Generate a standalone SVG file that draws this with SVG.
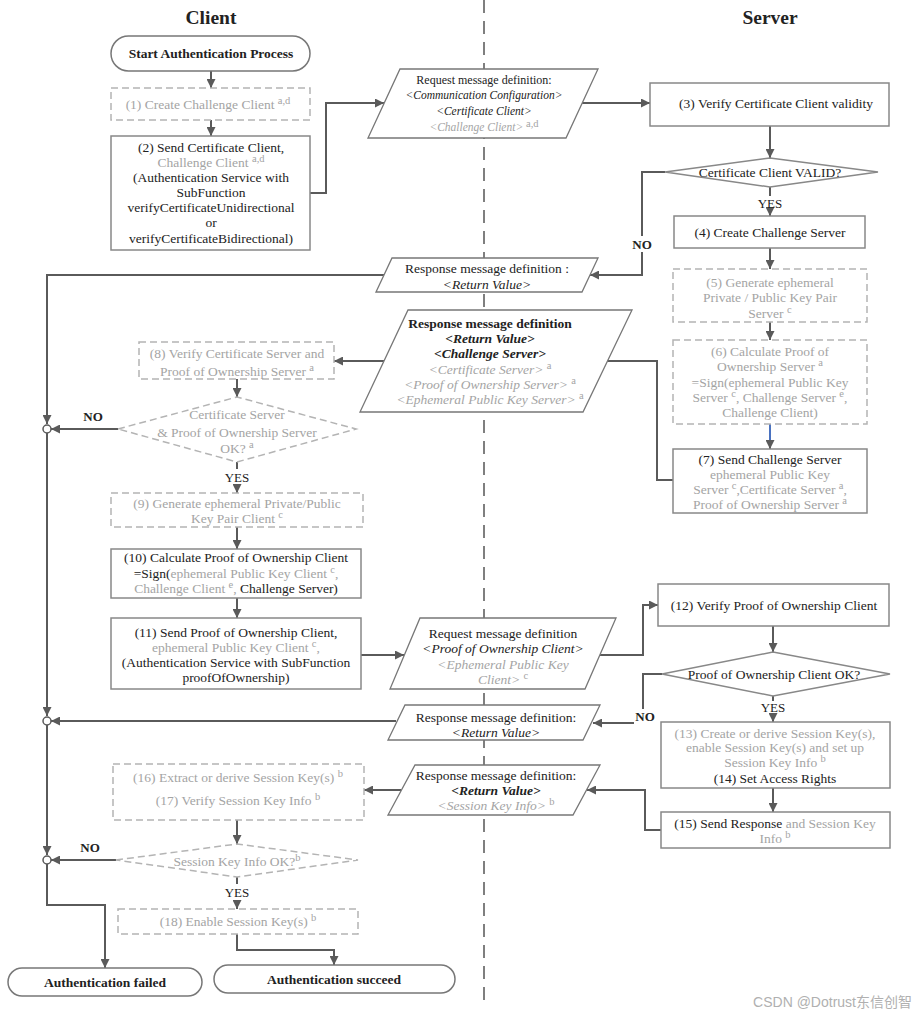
<svg xmlns="http://www.w3.org/2000/svg" width="922" height="1017" viewBox="0 0 922 1017">
<style>
.box{fill:#fff;stroke:#888;stroke-width:1.5}
.dbox{fill:#fff;stroke:#b4b4b4;stroke-width:1.5;stroke-dasharray:7 4}
.term{fill:#fff;stroke:#777;stroke-width:1.5}
.par{fill:#fff;stroke:#777;stroke-width:1.3}
.conn{fill:none;stroke:#5a5a5a;stroke-width:2}
.t{font-family:"Liberation Serif",serif;font-size:13.5px;fill:#222;text-anchor:middle}
.s{font-size:12px}
.xs{font-size:11.5px}
.g{fill:#a4a4a4}
.i{font-style:italic}
.b{font-weight:bold}
.sup{font-size:10.5px}
.title{font-family:"Liberation Serif",serif;font-size:19.5px;font-weight:bold;fill:#222;text-anchor:middle}
.lbl{font-family:"Liberation Serif",serif;font-size:13px;fill:#222;text-anchor:middle}
</style>
<defs>
<marker id="ah" viewBox="0 0 10 10" refX="10" refY="5" markerWidth="10" markerHeight="9" markerUnits="userSpaceOnUse" orient="auto"><path d="M0,0 L10,5 L0,10 z" fill="#5a5a5a"/></marker>
</defs>
<rect width="922" height="1017" fill="#fff"/>
<line x1="484" y1="0" x2="484" y2="1000" stroke="#555" stroke-width="1.5" stroke-dasharray="13 8"/>
<text class="title" x="211" y="24">Client</text>
<text class="title" x="770" y="24">Server</text>

<g id="connectors">
<path class="conn" d="M211,71 V88" marker-end="url(#ah)"/>
<path class="conn" d="M211,120 V136" marker-end="url(#ah)"/>
<path class="conn" d="M310,193 H326 V103 H384" marker-end="url(#ah)"/>
<path class="conn" d="M582,103 H650" marker-end="url(#ah)"/>
<path class="conn" d="M770,126 V158" marker-end="url(#ah)"/>
<path class="conn" d="M770,187 V196"/>
<path class="conn" d="M770,208 V216" marker-end="url(#ah)"/>
<path class="conn" d="M665,172 H642 V236"/>
<path class="conn" d="M642,252 V275 H590" marker-end="url(#ah)"/>
<path class="conn" d="M384,275 H47 V424" marker-end="url(#ah)"/>
<path class="conn" d="M770,248 V269" marker-end="url(#ah)"/>
<path class="conn" d="M770,322 V340" marker-end="url(#ah)"/>
<path d="M770,424 V440" fill="none" stroke="#4a72c0" stroke-width="2"/>
<path class="conn" d="M770,440 V449" marker-end="url(#ah)"/>
<path class="conn" d="M673,480 H657 V361 H584" marker-end="url(#ah)"/>
<path class="conn" d="M384,361 H334" marker-end="url(#ah)"/>
<path class="conn" d="M237,379 V397" marker-end="url(#ah)"/>
<path class="conn" d="M118,429 H51" marker-end="url(#ah)"/>
<path class="conn" d="M237,462 V469"/>
<path class="conn" d="M237,485 V493" marker-end="url(#ah)"/>
<path class="conn" d="M237,527 V549" marker-end="url(#ah)"/>
<path class="conn" d="M237,598 V618" marker-end="url(#ah)"/>
<path class="conn" d="M361,655 H404" marker-end="url(#ah)"/>
<path class="conn" d="M600,655 H643 V605 H658" marker-end="url(#ah)"/>
<path class="conn" d="M773,626 V652" marker-end="url(#ah)"/>
<path class="conn" d="M773,696 V701"/>
<path class="conn" d="M773,715 V722" marker-end="url(#ah)"/>
<path class="conn" d="M662,674 H643 V709"/>
<path class="conn" d="M634,723 H593" marker-end="url(#ah)"/>
<path class="conn" d="M396,721 H51" marker-end="url(#ah)"/>
<path class="conn" d="M773,788 V812" marker-end="url(#ah)"/>
<path class="conn" d="M661,830 H645 V790 H587" marker-end="url(#ah)"/>
<path class="conn" d="M401,790 H364" marker-end="url(#ah)"/>
<path class="conn" d="M237,820 V844" marker-end="url(#ah)"/>
<path class="conn" d="M116,860 H51" marker-end="url(#ah)"/>
<path class="conn" d="M237,877 V884"/>
<path class="conn" d="M237,900 V909" marker-end="url(#ah)"/>
<path class="conn" d="M237,934 V950 H334 V965" marker-end="url(#ah)"/>
<path class="conn" d="M47,433 V716" marker-end="url(#ah)"/>
<path class="conn" d="M47,725 V855" marker-end="url(#ah)"/>
<path class="conn" d="M47,864 V905 H105 V968" marker-end="url(#ah)"/>
<circle cx="47" cy="429" r="4" fill="#fff" stroke="#5a5a5a" stroke-width="1.5"/>
<circle cx="47" cy="721" r="4" fill="#fff" stroke="#5a5a5a" stroke-width="1.5"/>
<circle cx="47" cy="860" r="4" fill="#fff" stroke="#5a5a5a" stroke-width="1.5"/>
<text class="lbl b" x="642" y="249">NO</text>
<text class="lbl" x="770" y="208">YES</text>
<text class="lbl b" x="93" y="421">NO</text>
<text class="lbl" x="237" y="482">YES</text>
<text class="lbl" x="773" y="712">YES</text>
<text class="lbl b" x="645" y="721">NO</text>
<text class="lbl b" x="90" y="852">NO</text>
<text class="lbl" x="237" y="897">YES</text>
</g>

<g id="start">
<rect class="term" x="111" y="36" width="199" height="35" rx="17.5"/>
<text class="t b" x="211" y="58">Start Authentication Process</text>
</g>
<g id="step1">
<rect class="dbox" x="111" y="88" width="199" height="32"/>
<text class="t g" x="208" y="108.5">(1) Create Challenge Client <tspan class="sup" dy="-5">a,d</tspan></text>
</g>
<g id="step2">
<rect class="box" x="111" y="136" width="199" height="114"/>
<text class="t" x="211" y="151.5">(2) Send Certificate Client,</text>
<text class="t g" x="211" y="166.5">Challenge Client <tspan class="sup" dy="-5">a,d</tspan></text>
<text class="t" x="211" y="181.5">(Authentication Service with</text>
<text class="t" x="211" y="196.5">SubFunction</text>
<text class="t" x="211" y="211.5">verifyCertificateUnidirectional</text>
<text class="t" x="211" y="227">or</text>
<text class="t" x="211" y="242.5">verifyCertificateBidirectional)</text>
</g>
<g id="req1">
<polygon class="par" points="400,69 598,69 566,138 368,138"/>
<text class="t s" x="484" y="84">Request message definition:</text>
<text class="t xs i" x="484" y="99">&lt;Communication Configuration&gt;</text>
<text class="t xs i" x="484" y="115">&lt;Certificate Client&gt;</text>
<text class="t xs i g" x="484" y="131">&lt;Challenge Client&gt; <tspan class="sup" dy="-4" font-style="normal">a,d</tspan></text>
</g>
<g id="step3">
<rect class="box" x="650" y="83" width="239" height="43"/>
<text class="t" x="776" y="108">(3) Verify Certificate Client validity</text>
</g>
<g id="dec1">
<polygon class="box" points="665,172 770,158 878,172 770,187"/>
<text class="t" x="770" y="176.5">Certificate Client VALID?</text>
</g>
<g id="resp1">
<polygon class="par" points="392,258 598,258 582,292 376,292"/>
<text class="t" x="487" y="272.5">Response message definition :</text>
<text class="t i" x="487" y="288.5">&lt;Return Value&gt;</text>
</g>
<g id="step4">
<rect class="box" x="674" y="216" width="191" height="32"/>
<text class="t" x="770" y="236.5">(4) Create Challenge Server</text>
</g>
<g id="step5">
<rect class="dbox" x="673" y="269" width="194" height="53"/>
<text class="t g" x="770" y="286.5">(5) Generate ephemeral</text>
<text class="t g" x="770" y="301.5">Private / Public Key Pair</text>
<text class="t g" x="770" y="317.5">Server <tspan class="sup" dy="-5">c</tspan></text>
</g>
<g id="step6">
<rect class="dbox" x="673" y="340" width="194" height="84"/>
<text class="t g" x="770" y="355.5">(6) Calculate Proof of</text>
<text class="t g" x="770" y="370.5">Ownership Server <tspan class="sup" dy="-5">a</tspan></text>
<text class="t g" x="770" y="386.5">=Sign(ephemeral Public Key</text>
<text class="t g" x="770" y="401.5">Server <tspan class="sup" dy="-5">c</tspan><tspan dy="5">, Challenge Server </tspan><tspan class="sup" dy="-5">e</tspan><tspan dy="5">,</tspan></text>
<text class="t g" x="770" y="416.5">Challenge Client)</text>
</g>
<g id="step7">
<rect class="box" x="673" y="449" width="194" height="64"/>
<text class="t" x="770" y="463.5">(7) Send Challenge Server</text>
<text class="t g" x="770" y="478.5">ephemeral Public Key</text>
<text class="t g" x="770" y="493.5">Server <tspan class="sup" dy="-5">c</tspan><tspan dy="5">,Certificate Server </tspan><tspan class="sup" dy="-5">a</tspan><tspan dy="5">,</tspan></text>
<text class="t g" x="770" y="508.5">Proof of Ownership Server <tspan class="sup" dy="-5">a</tspan></text>
</g>
<g id="resp2">
<polygon class="par" points="408,310 632,310 583,412 360,412"/>
<text class="t b" x="490" y="327.5">Response message definition</text>
<text class="t b i" x="490" y="342.5">&lt;Return Value&gt;</text>
<text class="t b i" x="490" y="357.5">&lt;Challenge Server&gt;</text>
<text class="t i g" x="490" y="373.5">&lt;Certificate Server&gt; <tspan class="sup" dy="-5" font-style="normal">a</tspan></text>
<text class="t i g" x="490" y="388.5">&lt;Proof of Ownership Server&gt; <tspan class="sup" dy="-5" font-style="normal">a</tspan></text>
<text class="t i g" x="490" y="403.5">&lt;Ephemeral Public Key Server&gt; <tspan class="sup" dy="-5" font-style="normal">a</tspan></text>
</g>
<g id="step8">
<rect class="dbox" x="139" y="342" width="195" height="37"/>
<text class="t g" x="237" y="357.5">(8) Verify Certificate Server and</text>
<text class="t g" x="237" y="375.5">Proof of Ownership Server <tspan class="sup" dy="-5">a</tspan></text>
</g>
<g id="dec2">
<polygon class="dbox" points="118,429 237,397 356,429 237,462"/>
<text class="t g" x="237" y="418.5">Certificate Server</text>
<text class="t g" x="237" y="436.5">&amp; Proof of Ownership Server</text>
<text class="t g" x="237" y="452.5">OK? <tspan class="sup" dy="-5">a</tspan></text>
</g>
<g id="step9">
<rect class="dbox" x="111" y="493" width="252" height="34"/>
<text class="t g" x="237" y="507.5">(9) Generate ephemeral Private/Public</text>
<text class="t g" x="237" y="522.5">Key Pair Client <tspan class="sup" dy="-5">c</tspan></text>
</g>
<g id="step10">
<rect class="box" x="111" y="549" width="250" height="49"/>
<text class="t" x="236" y="561.5">(10) Calculate Proof of Ownership Client</text>
<text class="t" x="236" y="577.5">=Sign(<tspan class="g">ephemeral Public Key Client </tspan><tspan class="g sup" dy="-5">c</tspan><tspan class="g" dy="5">,</tspan></text>
<text class="t" x="236" y="593"><tspan class="g">Challenge Client </tspan><tspan class="g sup" dy="-5">e</tspan><tspan class="g" dy="5">,</tspan> Challenge Server)</text>
</g>
<g id="step11">
<rect class="box" x="111" y="618" width="250" height="71"/>
<text class="t" x="236" y="637">(11) Send Proof of Ownership Client,</text>
<text class="t g" x="236" y="652">ephemeral Public Key Client <tspan class="sup" dy="-5">c</tspan><tspan dy="5">,</tspan></text>
<text class="t" x="236" y="667">(Authentication Service with SubFunction</text>
<text class="t" x="236" y="682">proofOfOwnership)</text>
</g>
<g id="req2">
<polygon class="par" points="420,618 616,618 585,689 390,689"/>
<text class="t" x="503" y="637.5">Request message definition</text>
<text class="t i" x="503" y="652.5">&lt;Proof of Ownership Client&gt;</text>
<text class="t i g" x="503" y="668.5">&lt;Ephemeral Public Key</text>
<text class="t i g" x="503" y="683.5">Client&gt; <tspan class="sup" dy="-5" font-style="normal">c</tspan></text>
</g>
<g id="step12">
<rect class="box" x="658" y="584" width="231" height="42"/>
<text class="t" x="774" y="609.5">(12) Verify Proof of Ownership Client</text>
</g>
<g id="dec3">
<polygon class="box" points="662,674 773,652 890,674 773,696"/>
<text class="t" x="774" y="678.5">Proof of Ownership Client OK?</text>
</g>
<g id="resp3">
<polygon class="par" points="405,705 600,705 583,740 388,740"/>
<text class="t" x="496" y="721.5">Response message definition:</text>
<text class="t i" x="496" y="736.5">&lt;Return Value&gt;</text>
</g>
<g id="step13">
<rect class="box" x="661" y="722" width="229" height="66"/>
<text class="t g" x="775" y="737.5">(13) Create or derive Session Key(s),</text>
<text class="t g" x="775" y="751.5">enable Session Key(s) and set up</text>
<text class="t g" x="775" y="766.5">Session Key Info <tspan class="sup" dy="-5">b</tspan></text>
<text class="t" x="775" y="782.5">(14) Set Access Rights</text>
</g>
<g id="step15">
<rect class="box" x="661" y="812" width="229" height="36"/>
<text class="t" x="775" y="827.5">(15) Send Response<tspan class="g"> and Session Key</tspan></text>
<text class="t g" x="775" y="842.5">Info <tspan class="sup" dy="-5">b</tspan></text>
</g>
<g id="resp4">
<polygon class="par" points="415,765 600,765 573,815 388,815"/>
<text class="t" x="496" y="779.5">Response message definition:</text>
<text class="t b i" x="496" y="794.5">&lt;Return Value&gt;</text>
<text class="t i g" x="496" y="809.5">&lt;Session Key Info&gt; <tspan class="sup" dy="-5" font-style="normal">b</tspan></text>
</g>
<g id="step16">
<rect class="dbox" x="113" y="764" width="251" height="56"/>
<text class="t g" x="238" y="781.5">(16) Extract or derive Session Key(s) <tspan class="sup" dy="-5">b</tspan></text>
<text class="t g" x="238" y="804.5">(17) Verify Session Key Info <tspan class="sup" dy="-5">b</tspan></text>
</g>
<g id="dec4">
<polygon class="dbox" points="116,860 237,844 358,860 237,877"/>
<text class="t g" x="237" y="866">Session Key Info OK?<tspan class="sup" dy="-5">b</tspan></text>
</g>
<g id="step18">
<rect class="dbox" x="118" y="909" width="240" height="25"/>
<text class="t g" x="238" y="926">(18) Enable Session Key(s) <tspan class="sup" dy="-5">b</tspan></text>
</g>
<g id="failed">
<rect class="term" x="8" y="968" width="194" height="28" rx="14"/>
<text class="t b" x="105" y="986.5">Authentication failed</text>
</g>
<g id="succeed">
<rect class="term" x="214" y="965" width="241" height="28" rx="14"/>
<text class="t b" x="334" y="983.5">Authentication succeed</text>
</g>
<text x="912" y="1007" font-family="'Liberation Sans','Noto Sans CJK SC',sans-serif" font-size="14" fill="#b0b0b0" text-anchor="end">CSDN @Dotrust东信创智</text>
</svg>
